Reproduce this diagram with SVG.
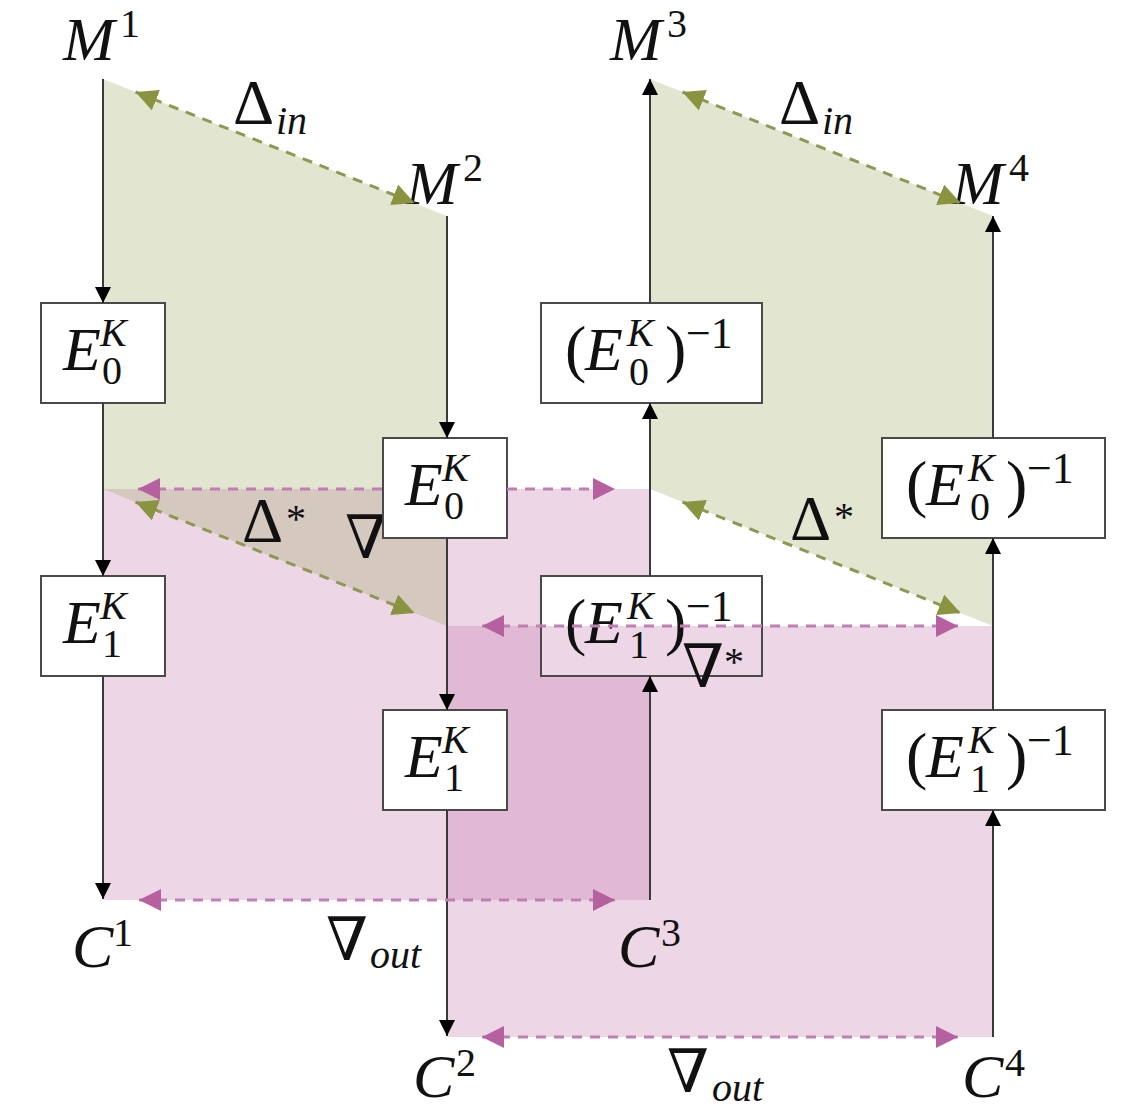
<svg xmlns="http://www.w3.org/2000/svg" width="1123" height="1111" viewBox="0 0 1123 1111" font-family="'Liberation Serif', 'Times New Roman', 'DejaVu Serif', serif">
<defs>
<style>
.ln{stroke:#3a3a3a;stroke-width:2;fill:none}
.box{fill:#fff;stroke:#4a4a4a;stroke-width:2}
.dg{stroke:#8f9852;stroke-width:3;stroke-dasharray:10 8;fill:none}
.dp{stroke:#c07fb2;stroke-width:3;stroke-dasharray:10 8;fill:none}
.pk{fill:#be6eaa;opacity:.28}
.gr{fill:#a0aa64;opacity:.30}
text{font-family:'Liberation Serif','Times New Roman','DejaVu Serif',serif;fill:#111}
.i{font-style:italic}
.big{font-size:62px}
.sm{font-size:40px}
.gk{font-size:64px}
.nb{font-size:60px}
.par{font-size:64px}
.inv{font-size:44px}
</style>
<marker id="a" viewBox="0 0 16 16" refX="16" refY="8" markerWidth="16" markerHeight="16" markerUnits="userSpaceOnUse" orient="auto"><path d="M0,0L16,8L0,16z" fill="#000"/></marker>
<marker id="g" viewBox="0 0 22 22" refX="22" refY="11" markerWidth="22" markerHeight="22" markerUnits="userSpaceOnUse" orient="auto-start-reverse"><path d="M0,0L22,11L0,22z" fill="#8a9440"/></marker>
<marker id="p" viewBox="0 0 22 22" refX="22" refY="11" markerWidth="22" markerHeight="22" markerUnits="userSpaceOnUse" orient="auto-start-reverse"><path d="M0,0L22,11L0,22z" fill="#b7609f"/></marker>
</defs>
<rect width="1123" height="1111" fill="#fff"/>

<g id="regions">
<rect class="pk" x="103" y="489" width="547" height="411"/>
<rect class="pk" x="447" y="626" width="546" height="411"/>
<polygon class="gr" points="103,79 447,216 447,626 103,489"/>
<polygon class="gr" points="650,79 993,216 993,626 650,489"/>
</g>

<g id="label-nabla-hidden">
<text class="nb" x="345" y="558">∇</text>
</g>

<g id="node-E0K-left">
<rect class="box" x="41" y="303" width="124" height="100"/>
<text class="i"><tspan class="big" x="63" y="370">E</tspan><tspan class="sm" x="100" y="346">K</tspan><tspan class="sm" x="102" y="384" font-style="normal">0</tspan></text>
</g>
<g id="node-E1K-left">
<rect class="box" x="41" y="576" width="124" height="100"/>
<text class="i"><tspan class="big" x="63" y="643">E</tspan><tspan class="sm" x="100" y="619">K</tspan><tspan class="sm" x="102" y="657" font-style="normal">1</tspan></text>
</g>
<g id="node-E0K-mid">
<rect class="box" x="383" y="438" width="124" height="100"/>
<text class="i"><tspan class="big" x="405" y="505">E</tspan><tspan class="sm" x="442" y="481">K</tspan><tspan class="sm" x="444" y="519" font-style="normal">0</tspan></text>
</g>
<g id="node-E1K-mid">
<rect class="box" x="383" y="710" width="124" height="100"/>
<text class="i"><tspan class="big" x="405" y="777">E</tspan><tspan class="sm" x="442" y="753">K</tspan><tspan class="sm" x="444" y="791" font-style="normal">1</tspan></text>
</g>
<g id="node-E0K-inv-left">
<rect class="box" x="541" y="303" width="221" height="100"/>
<text><tspan class="par" x="565" y="370">(</tspan><tspan class="big i" x="585" y="370">E</tspan><tspan class="sm i" x="627" y="346">K</tspan><tspan class="sm" x="629" y="385">0</tspan><tspan class="par" x="665" y="370">)</tspan><tspan class="inv" x="686" y="348">−1</tspan></text>
</g>
<g id="node-E1K-inv-mid">
<rect class="box" x="541" y="576" width="221" height="100"/>
<rect class="pk" x="542" y="626" width="219" height="49"/>
<text><tspan class="par" x="565" y="643">(</tspan><tspan class="big i" x="585" y="643">E</tspan><tspan class="sm i" x="627" y="619">K</tspan><tspan class="sm" x="629" y="658">1</tspan><tspan class="par" x="665" y="643">)</tspan><tspan class="inv" x="686" y="621">−1</tspan></text>
</g>
<g id="node-E0K-inv-right">
<rect class="box" x="882" y="438" width="223" height="100"/>
<text><tspan class="par" x="906" y="505">(</tspan><tspan class="big i" x="926" y="505">E</tspan><tspan class="sm i" x="968" y="481">K</tspan><tspan class="sm" x="970" y="520">0</tspan><tspan class="par" x="1006" y="505">)</tspan><tspan class="inv" x="1027" y="483">−1</tspan></text>
</g>
<g id="node-E1K-inv-right">
<rect class="box" x="882" y="710" width="223" height="100"/>
<text><tspan class="par" x="906" y="777">(</tspan><tspan class="big i" x="926" y="777">E</tspan><tspan class="sm i" x="968" y="753">K</tspan><tspan class="sm" x="970" y="792">1</tspan><tspan class="par" x="1006" y="777">)</tspan><tspan class="inv" x="1027" y="755">−1</tspan></text>
</g>

<g id="node-M1"><text class="i"><tspan class="big" x="63" y="60">M</tspan><tspan class="sm" x="120" y="37" font-style="normal">1</tspan></text></g>
<g id="node-M2"><text class="i"><tspan class="big" x="406" y="204">M</tspan><tspan class="sm" x="463" y="181" font-style="normal">2</tspan></text></g>
<g id="node-M3"><text class="i"><tspan class="big" x="610" y="60">M</tspan><tspan class="sm" x="667" y="37" font-style="normal">3</tspan></text></g>
<g id="node-M4"><text class="i"><tspan class="big" x="952" y="204">M</tspan><tspan class="sm" x="1009" y="181" font-style="normal">4</tspan></text></g>
<g id="node-C1"><text class="i"><tspan class="big" x="72" y="967">C</tspan><tspan class="sm" x="113" y="946" font-style="normal">1</tspan></text></g>
<g id="node-C2"><text class="i"><tspan class="big" x="413" y="1097">C</tspan><tspan class="sm" x="456" y="1076" font-style="normal">2</tspan></text></g>
<g id="node-C3"><text class="i"><tspan class="big" x="618" y="967">C</tspan><tspan class="sm" x="661" y="946" font-style="normal">3</tspan></text></g>
<g id="node-C4"><text class="i"><tspan class="big" x="962" y="1097">C</tspan><tspan class="sm" x="1005" y="1076" font-style="normal">4</tspan></text></g>

<g id="connectors">
<line class="ln" x1="103" y1="79" x2="103" y2="303" marker-end="url(#a)"/>
<line class="ln" x1="103" y1="403" x2="103" y2="576" marker-end="url(#a)"/>
<line class="ln" x1="103" y1="676" x2="103" y2="899" marker-end="url(#a)"/>
<line class="ln" x1="447" y1="216" x2="447" y2="438" marker-end="url(#a)"/>
<line class="ln" x1="447" y1="538" x2="447" y2="710" marker-end="url(#a)"/>
<line class="ln" x1="447" y1="810" x2="447" y2="1036" marker-end="url(#a)"/>
<line class="ln" x1="650" y1="900" x2="650" y2="676" marker-end="url(#a)"/>
<line class="ln" x1="650" y1="576" x2="650" y2="403" marker-end="url(#a)"/>
<line class="ln" x1="650" y1="303" x2="650" y2="79" marker-end="url(#a)"/>
<line class="ln" x1="993" y1="1037" x2="993" y2="810" marker-end="url(#a)"/>
<line class="ln" x1="993" y1="710" x2="993" y2="538" marker-end="url(#a)"/>
<line class="ln" x1="993" y1="438" x2="993" y2="216" marker-end="url(#a)"/>
<path class="dg" d="M135.5,92L414.5,203" marker-start="url(#g)" marker-end="url(#g)"/>
<path class="dg" d="M682.5,92L960.5,203" marker-start="url(#g)" marker-end="url(#g)"/>
<path class="dg" d="M135.5,502L414.5,613" marker-start="url(#g)" marker-end="url(#g)"/>
<path class="dg" d="M682.5,502L960.5,613" marker-start="url(#g)" marker-end="url(#g)"/>
<path class="dp" d="M138,489H383M507,489H615" marker-start="url(#p)" marker-end="url(#p)"/>
<path class="dp" d="M482,626H958" marker-start="url(#p)" marker-end="url(#p)"/>
<path class="dp" d="M139,900H615" marker-start="url(#p)" marker-end="url(#p)"/>
<path class="dp" d="M482,1037H958" marker-start="url(#p)" marker-end="url(#p)"/>
</g>

<g id="labels">
<text><tspan class="gk" x="233" y="124">Δ</tspan><tspan class="sm i" x="276" y="134">in</tspan></text>
<text><tspan class="gk" x="779" y="124">Δ</tspan><tspan class="sm i" x="822" y="134">in</tspan></text>
<text><tspan class="gk" x="242" y="542">Δ</tspan><tspan class="sm" x="286" y="532">*</tspan></text>
<text><tspan class="gk" x="790" y="540">Δ</tspan><tspan class="sm" x="834" y="530">*</tspan></text>
<text><tspan class="nb" x="682" y="687">∇</tspan><tspan class="sm" x="724" y="675">*</tspan></text>
<text><tspan class="nb" x="326" y="960">∇</tspan><tspan class="sm i" x="370" y="968">out</tspan></text>
<text><tspan class="nb" x="667" y="1092">∇</tspan><tspan class="sm i" x="712" y="1101">out</tspan></text>
</g>
</svg>
